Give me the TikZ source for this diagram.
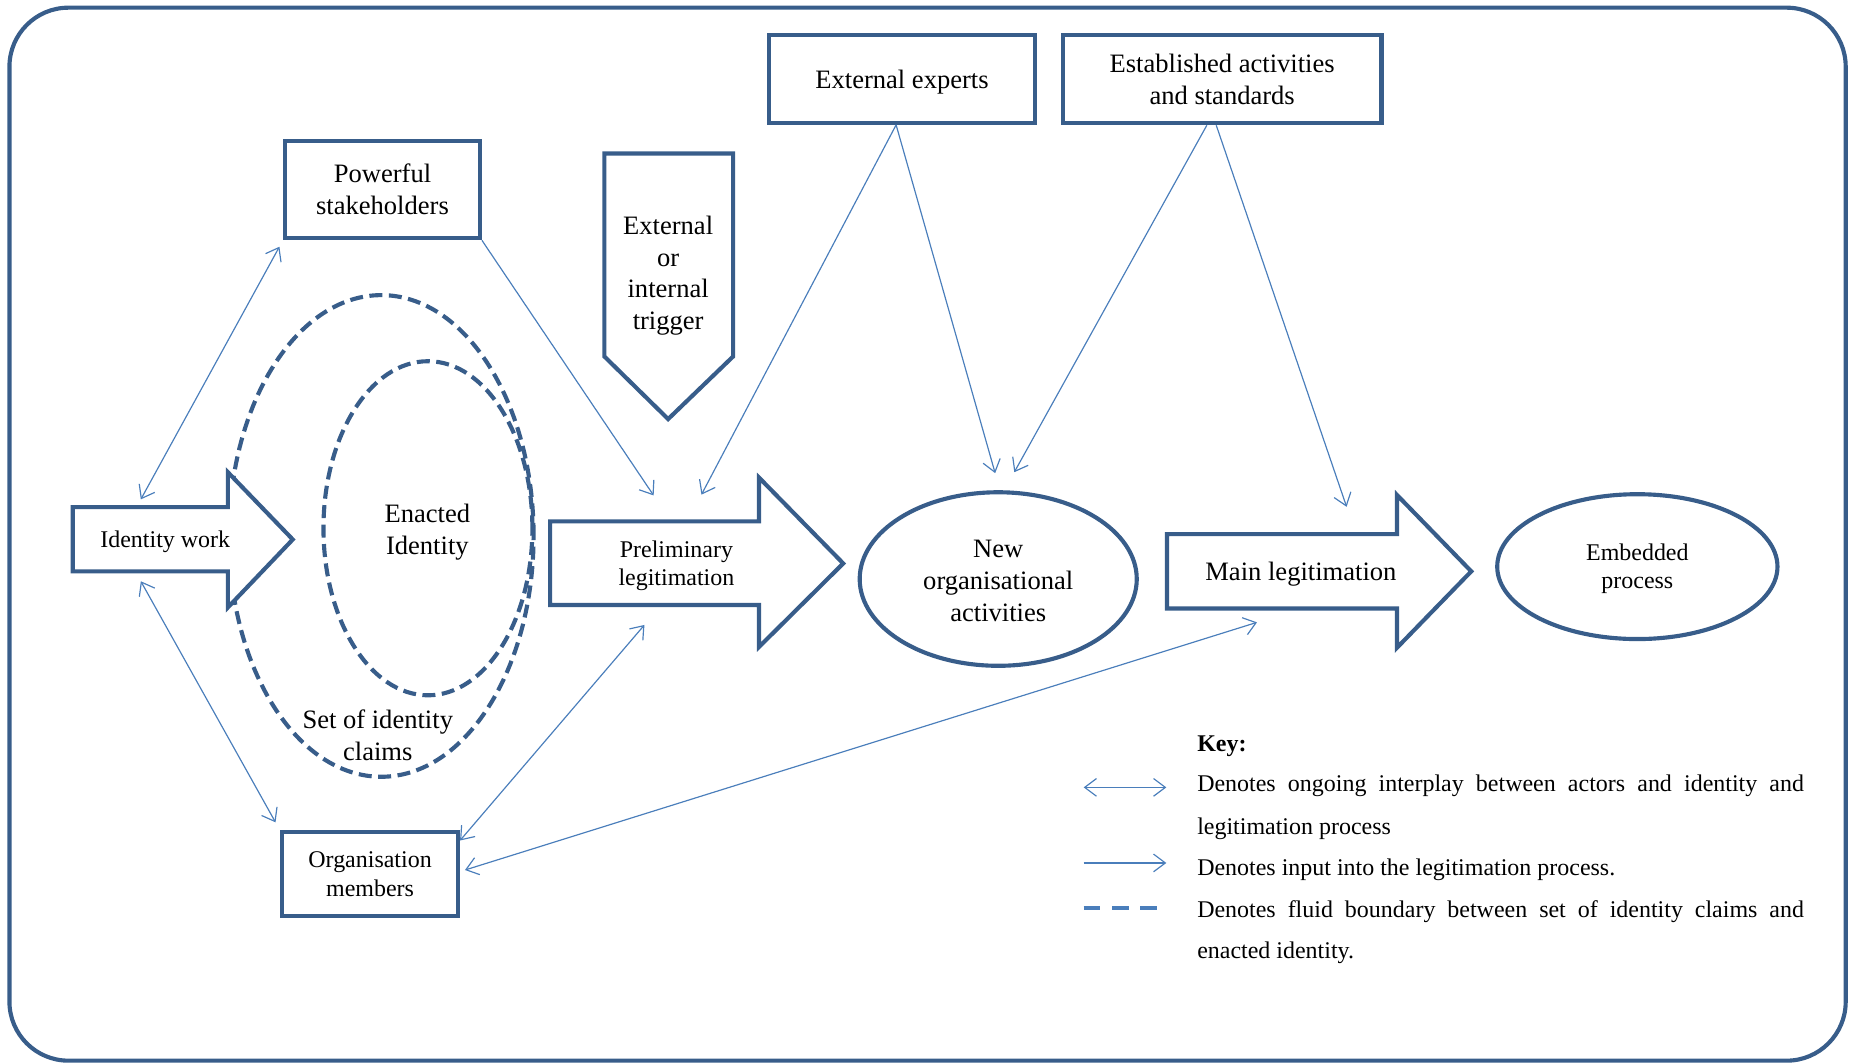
\documentclass[tikz,border=0pt]{standalone}
\usepackage{fontspec}
\setmainfont{Liberation Serif}
\usetikzlibrary{arrows.meta,shapes.geometric,calc}
\definecolor{dblue}{RGB}{56,93,138}
\definecolor{lblue}{RGB}{74,126,187}
\begin{document}
\begin{tikzpicture}[x=1pt,y=-1pt,
  heavy/.style={draw=dblue,line width=3.5pt},
  box/.style={heavy, rectangle, inner sep=0pt, align=center, fill=white},
  big/.style={font=\fontsize{22.5}{27}\selectfont},
  small/.style={font=\fontsize{20.3}{24}\selectfont},
  txt/.style={align=center, inner sep=0pt},
  conn/.style={draw=lblue, line width=1pt, -{Straight Barb[length=10pt,width=15pt]}},
  bothconn/.style={draw=lblue, line width=1pt, {Straight Barb[length=10pt,width=15pt]}-{Straight Barb[length=10pt,width=15pt]}},
  dashell/.style={draw=dblue, line width=3.5pt, dash pattern=on 11pt off 5.5pt, ellipse, inner sep=0pt},
  blockarrow/.style={heavy, fill=white, line join=miter},
  keytxt/.style={font=\fontsize{20.3}{24}\selectfont, anchor=base west, inner sep=0pt},
]
\useasboundingbox (0,0) rectangle (1568,901);
% outer frame
\draw[heavy, rounded corners=50pt] (8,6.5) rectangle (1563.5,898.5);

% dashed ellipses
\node[dashell, minimum width=258pt, minimum height=408pt] (claims) at (323,454) {};
\node[dashell, minimum width=177pt, minimum height=283pt] (enacted) at (362.5,447.5) {};
\node[txt, big] (enactedtxt) at (362,450.5) {Enacted\\Identity};
\node[txt, big] (claimstxt) at (320,623) {Set of identity\\claims};

% block arrows
\draw[blockarrow] (61.6,429.6) -- (193,429.6) -- (193,400) -- (248,457) -- (193,514.6) -- (193,484) -- (61.6,484) -- cycle;
\node[txt, small] (iw) at (140,459) {Identity work};

\draw[blockarrow] (466,441.7) -- (643,441.7) -- (643,404.6) -- (714.3,477.3) -- (643,548) -- (643,512.5) -- (466,512.5) -- cycle;
\node[txt, small] (pl) at (573,479) {Preliminary\\legitimation};

\draw[blockarrow] (988.6,452.5) -- (1183.4,452.5) -- (1183.4,419.3) -- (1246.3,484) -- (1183.4,548.7) -- (1183.4,515.5) -- (988.6,515.5) -- cycle;
\node[txt, big] (ml) at (1102,486.5) {Main legitimation};

% trigger
\draw[blockarrow] (512,130) -- (621,130) -- (621,302) -- (566,355) -- (512,302) -- cycle;
\node[txt, big] (trig) at (566,233.5) {External\\or\\internal\\trigger};

% boxes
\node[box, big, minimum width=165pt, minimum height=82.5pt] (ps) at (324,160.6) {Powerful\\stakeholders};
\node[box, minimum width=224.7pt, minimum height=74.5pt] (ee) at (764.1,66.8) {};
\node[txt, big] (eetxt) at (764.1,69.5) {External experts};
\node[box, big, minimum width=270pt, minimum height=74.8pt] (ea) at (1035.3,67) {Established activities\\and standards};
\node[box, small, minimum width=149pt, minimum height=71pt] (om) at (313.5,740.5) {Organisation\\members};

% ellipses
\node[heavy, ellipse, inner sep=0pt, minimum width=234.7pt, minimum height=147pt] (noa) at (845.6,490.5) {};
\node[txt, big] (noatxt) at (845.6,492) {New\\organisational\\activities};
\node[heavy, ellipse, inner sep=0pt, minimum width=237.4pt, minimum height=122.7pt] (emb) at (1387,480) {};
\node[txt, small] (embtxt) at (1387,482) {Embedded\\process};

% connector end points
\coordinate (iwU) at (119.3,423);
\coordinate (psL) at (236.7,209);
\coordinate (iwD) at (119.3,492.4);
\coordinate (omU) at (233.4,696.6);
\coordinate (plA) at (553.7,419.7);
\coordinate (plB) at (594.2,419);
\coordinate (noaA) at (843,400.8);
\coordinate (noaB) at (859.2,400);
\coordinate (mlA) at (1140.7,429.3);
\coordinate (omR1) at (389.7,712);
\coordinate (plC) at (545.9,529.4);
\coordinate (omR2) at (393.9,737);
\coordinate (mlB) at (1064.8,527.2);

% connectors
\draw[bothconn] (iwU) -- (psL);
\draw[bothconn] (iwD) -- (omU);
\draw[conn] (ps.south east) -- (plA);
\draw[conn] ($(ee.south)+(-5,0)$) -- (plB);
\draw[conn] ($(ee.south)+(-5,0)$) -- (noaA);
\draw[conn] ($(ea.south)+(-13,0)$) -- (noaB);
\draw[conn] ($(ea.south)+(-5,0)$) -- (mlA);
\draw[bothconn] (omR1) -- (plC);
\draw[bothconn] (omR2) -- (mlB);

% key
\node[keytxt, font=\fontsize{20.3}{24}\selectfont\bfseries] (key) at (1014,636.6) {Key:};
\coordinate (k1a) at (918,667); \coordinate (k1b) at (988,667);
\coordinate (k2a) at (918,731); \coordinate (k2b) at (988,731);
\coordinate (k3a) at (918,769); \coordinate (k3b) at (980,769);
\draw[bothconn] (k1a) -- (k1b);
\draw[conn] (k2a) -- (k2b);
\draw[draw=lblue, line width=3pt, dash pattern=on 14pt off 10pt] (k3a) -- (k3b);
\node[keytxt] (kl1) at (1014,670.8) {\makebox[514pt][s]{Denotes ongoing interplay between actors and identity and}};
\node[keytxt] (kl2) at (1014,707) {legitimation process};
\node[keytxt] (kl3) at (1014,741.4) {Denotes input into the legitimation process.};
\node[keytxt] (kl4) at (1014,777) {\makebox[514pt][s]{Denotes fluid boundary between set of identity claims and}};
\node[keytxt] (kl5) at (1014,811.8) {enacted identity.};
\end{tikzpicture}
\end{document}
